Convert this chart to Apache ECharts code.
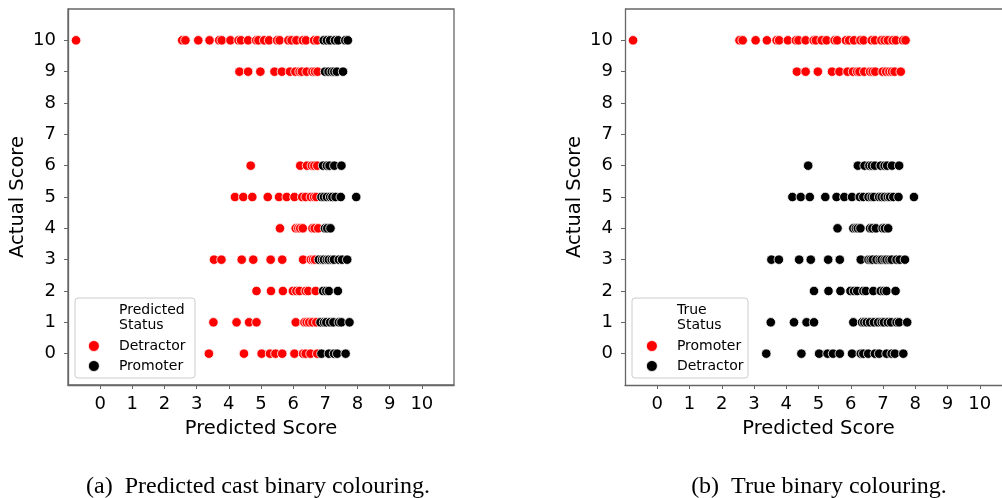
<!DOCTYPE html>
<html>
<head>
<meta charset="utf-8">
<script src="https://cdn.jsdelivr.net/npm/echarts@6/dist/echarts.min.js"></script>
<style>
html,body{margin:0;padding:0;background:#fff;overflow:hidden;}
#chart{width:1002px;height:498px;}
</style>
</head>
<body>
<div id="chart"></div>
<script>
// Predicted scores for each actual score row
const score10 = [-0.75, 2.55, 2.65, 3.05, 3.4, 3.7, 3.78, 4.05, 4.3, 4.38, 4.6, 4.85, 4.92, 5.1, 5.25, 5.5, 5.58, 5.85, 5.95, 6.1, 6.3, 6.4, 6.65, 6.75, 6.95, 7.05, 7.15, 7.3, 7.4, 7.62, 7.7];
const score9 = [4.33, 4.6, 4.98, 5.42, 5.65, 5.9, 6.07, 6.2, 6.27, 6.42, 6.6, 6.68, 6.76, 6.99, 7.1, 7.2, 7.28, 7.36, 7.55];
const score6 = [4.68, 6.22, 6.43, 6.58, 6.66, 6.75, 6.93, 7.05, 7.13, 7.28, 7.5];
const score5 = [4.19, 4.45, 4.73, 5.21, 5.56, 5.8, 6.04, 6.28, 6.39, 6.55, 6.65, 6.72, 6.88, 6.96, 7.05, 7.15, 7.22, 7.32, 7.48, 7.96];
const score4 = [5.59, 6.08, 6.16, 6.22, 6.3, 6.6, 6.67, 6.78, 6.99, 7.06, 7.16];
const score3 = [3.54, 3.77, 4.4, 4.76, 5.3, 5.66, 6.31, 6.55, 6.62, 6.68, 6.8, 6.9, 6.96, 7.05, 7.11, 7.2, 7.27, 7.42, 7.52, 7.68];
const score2 = [4.86, 5.31, 5.68, 5.99, 6.1, 6.2, 6.39, 6.47, 6.7, 6.93, 7.03, 7.11, 7.39];
const score1 = [3.52, 4.24, 4.63, 4.86, 6.08, 6.35, 6.42, 6.5, 6.6, 6.72, 6.85, 6.96, 7.03, 7.15, 7.25, 7.42, 7.5, 7.75];
const score0 = [3.38, 4.47, 5.02, 5.28, 5.45, 5.66, 6.04, 6.31, 6.39, 6.54, 6.75, 6.88, 7.11, 7.27, 7.37, 7.63];

const tickValues = [0, 1, 2, 3, 4, 5, 6, 7, 8, 9, 10];
const promoterCut = 6.8; // predicted-score cast threshold
const rows = [[0, score0], [1, score1], [2, score2], [3, score3], [4, score4], [5, score5], [6, score6], [9, score9], [10, score10]];

const allPts = [];
rows.forEach(([actual, preds]) => preds.forEach(p => allPts.push([p, actual])));

const predDetractor = allPts.filter(d => d[0] < promoterCut);
const predPromoter = allPts.filter(d => d[0] >= promoterCut);
const trueDetractor = allPts.filter(d => d[1] <= 6);
const truePromoter = allPts.filter(d => d[1] >= 9);

const RED = '#ff0000', BLACK = '#000000', SPINE = '#666666';
const FONT = 'DejaVu Sans';

function xAxis(gi, xmax, showName) {
  return {
    gridIndex: gi, type: 'value', min: -1, max: xmax, interval: 1,
    name: showName ? 'Predicted Score' : '', nameLocation: 'middle', nameGap: 34,
    nameTextStyle: { fontFamily: FONT, fontSize: 19.5, color: '#000' },
    axisLine: { show: true, onZero: false, lineStyle: { color: SPINE, width: 1.3 } },
    axisTick: { show: true, length: 4, customValues: tickValues, lineStyle: { color: SPINE } },
    axisLabel: { customValues: tickValues, margin: 10, fontFamily: FONT, fontSize: 18, color: '#000' },
    splitLine: { show: false }
  };
}
function yAxis(gi) {
  return {
    gridIndex: gi, type: 'value', min: -1, max: 11, interval: 1,
    name: 'Actual Score', nameLocation: 'middle', nameGap: 40,
    nameTextStyle: { fontFamily: FONT, fontSize: 19.5, color: '#000' },
    axisLine: { show: true, onZero: false, lineStyle: { color: SPINE, width: 1.3 } },
    axisTick: { show: true, length: 4, customValues: tickValues, lineStyle: { color: SPINE } },
    axisLabel: { customValues: tickValues, margin: 12, fontFamily: FONT, fontSize: 18, color: '#000' },
    splitLine: { show: false }
  };
}
function sc(name, data, color, gi) {
  return {
    type: 'scatter', name: name, data: data, xAxisIndex: gi, yAxisIndex: gi,
    symbol: 'circle', symbolSize: 9.5, clip: false,
    itemStyle: { color: color, borderColor: '#fff', borderWidth: 0.8, opacity: 1 },
    emphasis: { disabled: true }, silent: true
  };
}
function legend(left, names, colors) {
  return {
    orient: 'vertical', left: left, top: 339, itemWidth: 40, itemHeight: 11, itemGap: 6,
    icon: 'circle', selectedMode: false, padding: 0,
    textStyle: { fontFamily: FONT, fontSize: 14, lineHeight: 14, color: '#000' },
    data: names.map((n, i) => ({ name: n, itemStyle: { color: colors[i], borderColor: '#fff', borderWidth: 0.8 } }))
  };
}

const chart = echarts.init(document.getElementById('chart'), null, { renderer: 'canvas' });
chart.setOption({
  animation: false,
  backgroundColor: '#fff',
  grid: [
    { left: 68, top: 9, width: 386, height: 376, show: true, borderColor: SPINE, borderWidth: 1.3, backgroundColor: 'transparent', containLabel: false, outerBoundsMode: 'none' },
    // right panel runs past the page edge (its x range would end at 11, beyond the crop)
    { left: 625, top: 9, width: 387, height: 376, show: false, containLabel: false, outerBoundsMode: 'none' }
  ],
  xAxis: [xAxis(0, 11, true), xAxis(1, 11, true)],
  yAxis: [yAxis(0), yAxis(1)],
  legend: [
    legend(88, ['Detractor', 'Promoter'], [RED, BLACK]),
    legend(646, ['Promoter', 'Detractor'], [RED, BLACK])
  ],
  series: [
    sc('Detractor', predDetractor, RED, 0),
    sc('Promoter', predPromoter, BLACK, 0),
    sc('Detractor', trueDetractor, BLACK, 1),
    sc('Promoter', truePromoter, RED, 1)
  ],
  graphic: [
    // top spine of the right panel, running off the page edge
    { type: 'line', z: 3, shape: { x1: 625, y1: 9, x2: 1010, y2: 9 },
      style: { stroke: SPINE, lineWidth: 1.3 } },
    { type: 'rect', z: 3, shape: { x: 75, y: 298, width: 120, height: 80, r: 3 },
      style: { fill: 'rgba(255,255,255,0.8)', stroke: '#cccccc', lineWidth: 1 } },
    { type: 'text', z: 5, x: 119, y: 302.5,
      style: { text: 'Predicted\nStatus', fontFamily: FONT, fontSize: 14, lineHeight: 15, fill: '#000' } },
    { type: 'rect', z: 3, shape: { x: 632, y: 298, width: 116, height: 80, r: 3 },
      style: { fill: 'rgba(255,255,255,0.8)', stroke: '#cccccc', lineWidth: 1 } },
    { type: 'text', z: 5, x: 677, y: 302.5,
      style: { text: 'True\nStatus', fontFamily: FONT, fontSize: 14, lineHeight: 15, fill: '#000' } },
    { type: 'text', z: 5, x: 258, y: 487,
      style: { text: '(a)  Predicted cast binary colouring.', fontFamily: 'Liberation Serif', fontSize: 24, fill: '#000', align: 'center', verticalAlign: 'middle' } },
    { type: 'text', z: 5, x: 819, y: 487,
      style: { text: '(b)  True binary colouring.', fontFamily: 'Liberation Serif', fontSize: 24, fill: '#000', align: 'center', verticalAlign: 'middle' } }
  ]
});
</script>
</body>
</html>
